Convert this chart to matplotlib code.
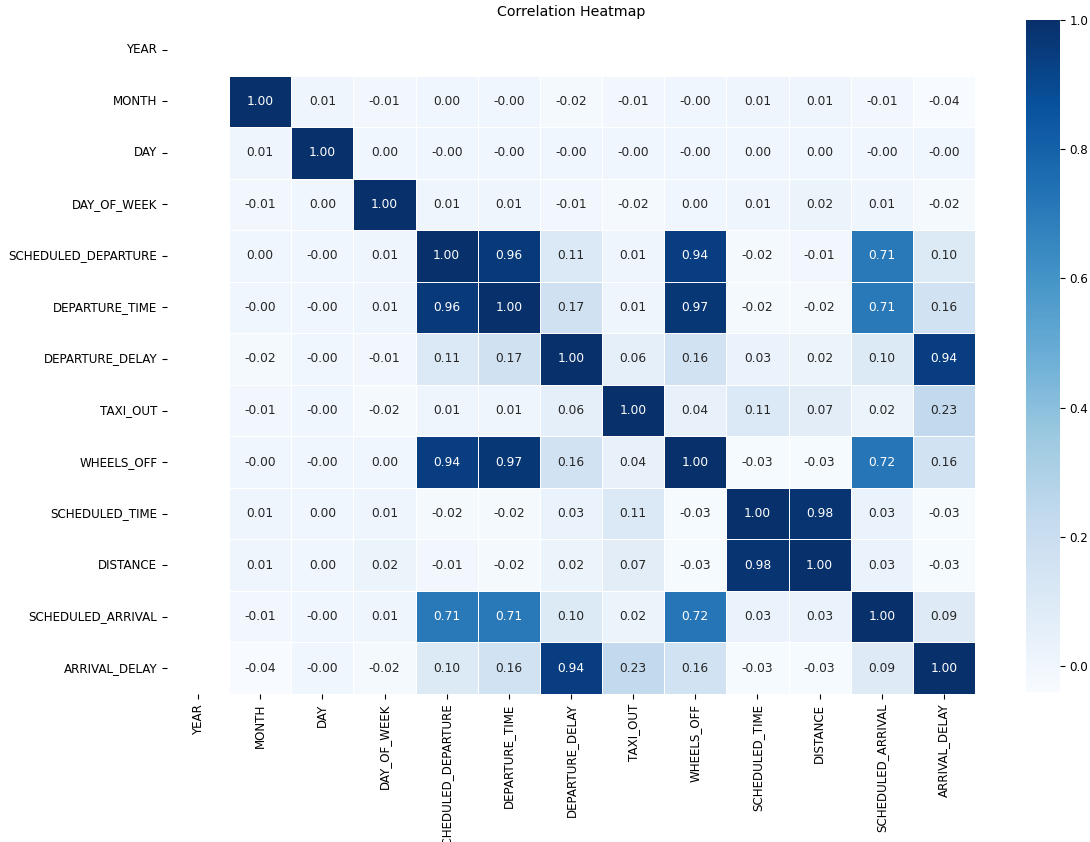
import numpy as np
import pandas as pd
import matplotlib
matplotlib.use("Agg")
import matplotlib.pyplot as plt
import seaborn as sns

# Nombres de las variables
cols = ["YEAR", "MONTH", "DAY", "DAY_OF_WEEK", "SCHEDULED_DEPARTURE",
        "DEPARTURE_TIME", "DEPARTURE_DELAY", "TAXI_OUT", "WHEELS_OFF",
        "SCHEDULED_TIME", "DISTANCE", "SCHEDULED_ARRIVAL", "ARRIVAL_DELAY"]

# Correlaciones (sin YEAR, que es constante -> NaN)
month = [1.00, 0.01, -0.01, 0.00, -0.001, -0.02, -0.01, -0.001, 0.01, 0.01, -0.01, -0.04]
day = [0.01, 1.00, 0.00, -0.001, -0.001, -0.001, -0.001, -0.001, 0.00, 0.00, -0.001, -0.001]
day_of_week = [-0.01, 0.00, 1.00, 0.01, 0.01, -0.01, -0.02, 0.00, 0.01, 0.02, 0.01, -0.02]
sched_dep = [0.00, -0.001, 0.01, 1.00, 0.96, 0.11, 0.01, 0.94, -0.02, -0.01, 0.71, 0.10]
dep_time = [-0.001, -0.001, 0.01, 0.96, 1.00, 0.17, 0.01, 0.97, -0.02, -0.02, 0.71, 0.16]
dep_delay = [-0.02, -0.001, -0.01, 0.11, 0.17, 1.00, 0.06, 0.16, 0.03, 0.02, 0.10, 0.94]
taxi_out = [-0.01, -0.001, -0.02, 0.01, 0.01, 0.06, 1.00, 0.04, 0.11, 0.07, 0.02, 0.23]
wheels_off = [-0.001, -0.001, 0.00, 0.94, 0.97, 0.16, 0.04, 1.00, -0.03, -0.03, 0.72, 0.16]
sched_time = [0.01, 0.00, 0.01, -0.02, -0.02, 0.03, 0.11, -0.03, 1.00, 0.98, 0.03, -0.03]
distance = [0.01, 0.00, 0.02, -0.01, -0.02, 0.02, 0.07, -0.03, 0.98, 1.00, 0.03, -0.03]
sched_arr = [-0.01, -0.001, 0.01, 0.71, 0.71, 0.10, 0.02, 0.72, 0.03, 0.03, 1.00, 0.09]
arr_delay = [-0.04, -0.001, -0.02, 0.10, 0.16, 0.94, 0.23, 0.16, -0.03, -0.03, 0.09, 1.00]

rows = [month, day, day_of_week, sched_dep, dep_time, dep_delay, taxi_out,
        wheels_off, sched_time, distance, sched_arr, arr_delay]

# Construir la matriz completa con YEAR como NaN
n = len(cols)
mat = np.full((n, n), np.nan)
for i, r in enumerate(rows):
    mat[i + 1, 1:] = r
corr = pd.DataFrame(mat, index=cols, columns=cols)

fig = plt.figure(figsize=(10.9, 8.42), dpi=100)
ax = fig.add_axes([167 / 1090, 1 - 694 / 842, (975 - 167) / 1090, (694 - 24) / 842])
cax = fig.add_axes([1026 / 1090, 1 - 692 / 842, 34 / 1090, (692 - 20) / 842])

sns.heatmap(corr, annot=True, fmt=".2f", cmap="Blues", linewidths=0.5,
            linecolor="white", ax=ax, cbar_ax=cax, annot_kws={"size": 8.8})
ax.set_title("Correlation Heatmap", fontsize=10.3)
ax.tick_params(labelsize=8.6)
cax.tick_params(labelsize=8.6)

fig.savefig("out.png", dpi=100)
